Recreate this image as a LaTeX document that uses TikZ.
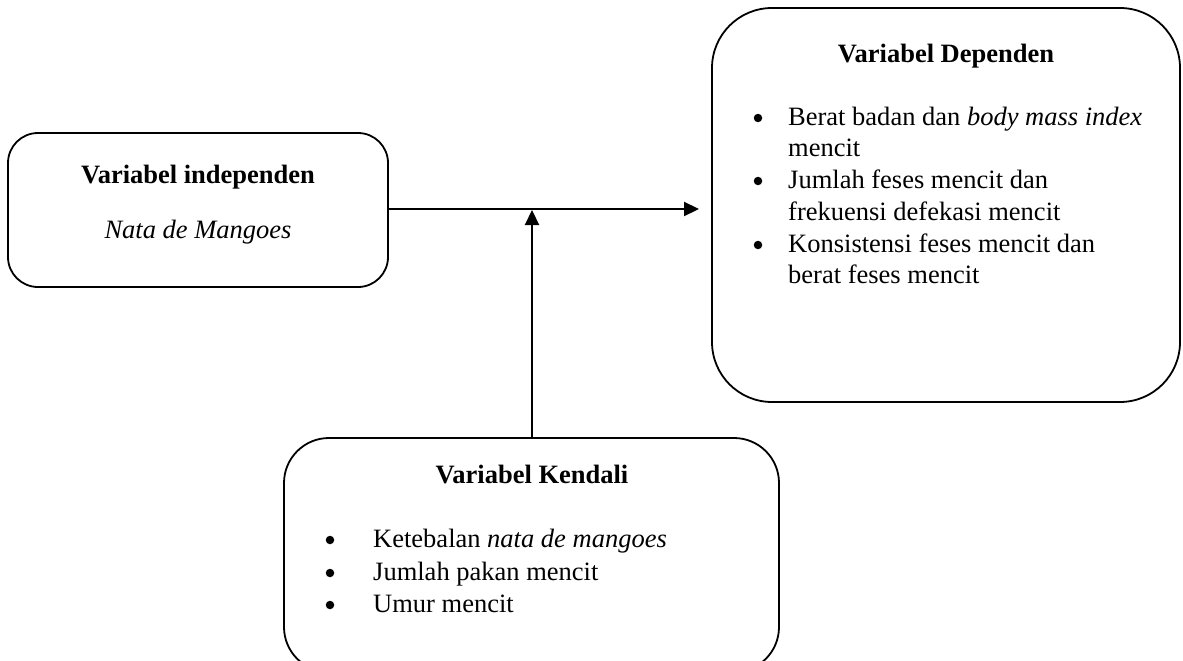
\documentclass[tikz,border=0pt]{standalone}
\usepackage{fontspec}
\setmainfont{Liberation Serif}
\usetikzlibrary{arrows.meta}
\begin{document}
\begin{tikzpicture}[x=1pt,y=-1pt,
  box/.style={draw,line width=1.8pt,rectangle,inner sep=0pt},
  txt/.style={inner sep=0pt,font=\fontsize{26.5}{32}\selectfont},
  dot/.style={circle,fill,inner sep=0pt,minimum size=8.5pt},
  conn/.style={line width=2.2pt,-{Triangle[length=15pt,width=14pt]}}]
\useasboundingbox (0,0) rectangle (1183,661);
% boxes
\node[box,rounded corners=30pt,minimum width=380pt,minimum height=154pt] (indep) at (198,210) {};
\node[box,rounded corners=60pt,minimum width=468pt,minimum height=394pt] (dep) at (946,205) {};
\node[box,rounded corners=45pt,minimum width=495pt,minimum height=234pt] (ctrl) at (531.5,555) {};
% left box text
\node[txt,anchor=base] (indepT) at (198,183) {\textbf{Variabel independen}};
\node[txt,anchor=base] (indepS) at (198,238) {\textit{Nata de Mangoes}};
% right box text
\node[txt,anchor=base] (depT) at (946,63) {\textbf{Variabel Dependen}};
\node[dot] (b1) at (758,118) {};
\node[txt,anchor=base west] (d1a) at (788,125) {Berat badan dan \textit{body mass index}};
\node[txt,anchor=base west] (d1b) at (788,156) {mencit};
\node[dot] (b2) at (758,181) {};
\node[txt,anchor=base west] (d2a) at (788,188) {Jumlah feses mencit dan};
\node[txt,anchor=base west] (d2b) at (788,220) {frekuensi defekasi mencit};
\node[dot] (b3) at (758,245) {};
\node[txt,anchor=base west] (d3a) at (788,252) {Konsistensi feses mencit dan};
\node[txt,anchor=base west] (d3b) at (788,283) {berat feses mencit};
% bottom box text
\node[txt,anchor=base] (ctrlT) at (532,483) {\textbf{Variabel Kendali}};
\node[dot] (c1b) at (330,540) {};
\node[txt,anchor=base west] (c1) at (373,547) {Ketebalan \textit{nata de mangoes}};
\node[dot] (c2b) at (330,573) {};
\node[txt,anchor=base west] (c2) at (373,580) {Jumlah pakan mencit};
\node[dot] (c3b) at (330,605) {};
\node[txt,anchor=base west] (c3) at (373,612) {Umur mencit};
% connectors
\coordinate (tip) at (699,209);
\coordinate (join) at (532,210);
\draw[conn] (indep.east |- tip) -- (tip);
\draw[conn] (ctrl.north -| join) -- (join);
\end{tikzpicture}
\end{document}
